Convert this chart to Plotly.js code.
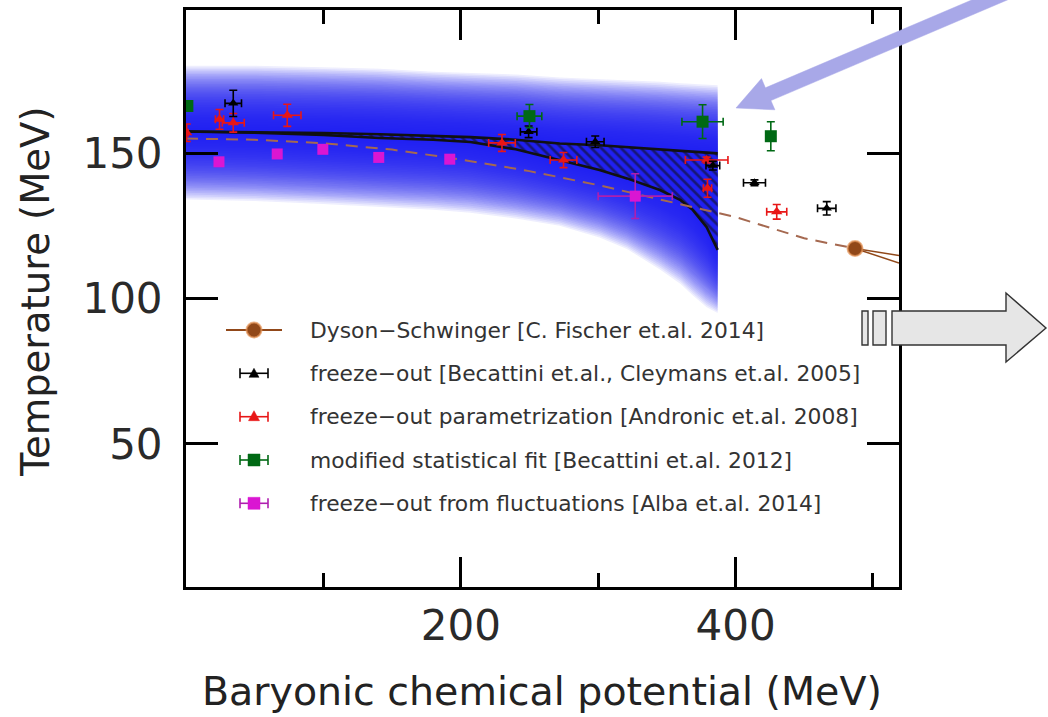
<!DOCTYPE html>
<html>
<head>
<meta charset="utf-8">
<script src="https://cdn.plot.ly/plotly-3.0.1.min.js"></script>
<style>
  html, body { margin: 0; padding: 0; background: #fff; }
  #chart { width: 1048px; height: 717px; }
</style>
</head>
<body>
<div id="chart"></div>
<script>
// ---- QCD phase diagram: transition band and freeze-out data ----

// Transition band (hatched region between two lines), with a fading halo
const bandMu      = [0, 50, 100, 141, 180, 207, 240, 272, 301, 321, 345, 360, 369, 379, 387];
const upperT      = [157.4, 157.2, 156.9, 156.5, 156.0, 155.5, 154.6, 153.3, 152.7, 152.0, 151.3, 150.8, 150.5, 150.2, 149.9];
const lowerT      = [157.4, 157.0, 156.2, 155.2, 154.6, 153.8, 151.3, 147.5, 144.2, 141.3, 137.3, 133.8, 130.4, 124.5, 116.7];
const bandTopT    = [180.0, 180.0, 179.5, 179.0, 178.0, 177.5, 177.0, 176.0, 175.5, 175.0, 174.5, 174.0, 173.8, 173.5, 173.3];
const bandBottomT = [134.0, 133.5, 132.5, 131.5, 130.5, 129.5, 127.5, 125.0, 121.0, 117.0, 110.0, 105.0, 101.0, 97.0, 95.0];

// Dyson-Schwinger crossover line, critical end point, first-order lines
const dsMu  = [0, 50, 100, 150, 200, 250, 300, 350, 400, 450, 487];
const dsT   = [155.0, 154.6, 153.4, 151.2, 147.8, 143.8, 139.0, 133.5, 128.0, 120.7, 117.2];
const cepMu = [487];
const cepT  = [117.2];
const foMu  = [487, 519];
const foT1  = [117.2, 114.8];
const foT2  = [117.2, 112.2];

// freeze-out [Becattini et.al., Cleymans et.al. 2005]
const bkMu    = [34.4, 249.4, 297.9, 383.5, 413.8, 466.4];
const bkT     = [167.1, 157.3, 153.9, 145.7, 139.8, 131.0];
const bkMuErr = [6, 6, 6.4, 5, 8, 6.7];
const bkTErr  = [4.5, 2, 2, 1.5, 1, 2.3];

// freeze-out parametrization [Andronic et.al. 2008]
const rdMu    = [0.5, 24.4, 34.4, 73.7, 230, 274.8, 379, 379.6, 430];
const rdT     = [157.0, 161.6, 160.4, 163.0, 153.5, 147.6, 147.6, 137.9, 129.8];
const rdMuErr = [1, 3, 8, 10, 9.7, 9.7, 15.5, 3, 7.3];
const rdTErr  = [3, 3.4, 3.2, 3.8, 2.9, 2.6, 1, 3.1, 2.5];

// modified statistical fit [Becattini et.al. 2012]
const gnMu    = [1, 250, 376, 425.7];
const gnT     = [166.2, 162.7, 160.8, 155.8];
const gnMuErr = [2, 9, 15, 1];
const gnTErr  = [1.5, 4, 5.8, 5];

// freeze-out from fluctuations [Alba et.al. 2014]
const mgMu    = [24, 66.4, 99.6, 140.3, 192, 327];
const mgT     = [147.0, 149.7, 151.3, 148.5, 147.9, 135.2];
const mgMuErr = [0, 0, 0, 0, 0, 27];
const mgTErr  = [0, 0, 0, 0, 0, 7.7];

// axis ticks
const xTickVals  = [200, 400];
const xTickText  = ['200', '400'];
const xMinorVals = [100, 300, 500];
const yTickVals  = [50, 100, 150];
const yTickText  = ['50', '100', '150'];

const legendLabels = [
  'Dyson\u2212Schwinger [C. Fischer et.al. 2014]',
  'freeze\u2212out [Becattini et.al., Cleymans et.al. 2005]',
  'freeze\u2212out parametrization [Andronic et.al. 2008]',
  'modified statistical fit [Becattini et.al. 2012]',
  'freeze\u2212out from fluctuations [Alba et.al. 2014]'
];

// ---- colours ----
const C_BLUE   = 'rgba(32,32,240,0.075)';
const C_BROWN  = 'rgb(145,72,25)';
const C_DASH   = 'rgb(165,105,80)';
const C_RED    = 'rgb(232,22,22)';
const C_BLACK  = '#000';
const C_GREEN  = 'rgb(0,105,20)';
const C_MAG    = 'rgb(218,22,210)';
const C_MAGERR = 'rgb(175,30,175)';

// ---- page geometry (pixels) ----
const M = { l: 186, r: 149, t: 10, b: 130 };
const W = 1048, H = 717;
const PW = W - M.l - M.r, PH = H - M.t - M.b;
const fx = px => (px - M.l) / PW;
const fy = py => 1 - (py - M.t) / PH;

const traces = [];

// halo: many nested translucent bands give a smooth fade around the region
const N_LAYERS = 40;
const revMu = bandMu.slice().reverse();
for (let k = 1; k <= N_LAYERS; k++) {
  const f = k / N_LAYERS;
  const top = bandMu.map((m, i) => upperT[i] + (bandTopT[i] - upperT[i]) * f);
  const bot = bandMu.map((m, i) => lowerT[i] - (lowerT[i] - bandBottomT[i]) * f);
  traces.push({
    x: bandMu.concat(revMu), y: top.concat(bot.slice().reverse()),
    mode: 'lines', fill: 'toself', fillcolor: C_BLUE,
    line: { width: 0, color: 'rgba(0,0,0,0)' }, hoverinfo: 'skip', showlegend: false
  });
}

// hatched transition region
traces.push({
  x: bandMu.concat(revMu), y: upperT.concat(lowerT.slice().reverse()),
  mode: 'lines', fill: 'toself', fillcolor: 'rgba(0,0,0,0)',
  fillpattern: { shape: '\\', fgcolor: '#14144a', bgcolor: 'rgba(0,0,0,0)', fgopacity: 0.75, size: 7, solidity: 0.38 },
  line: { width: 0, color: 'rgba(0,0,0,0)' }, hoverinfo: 'skip', showlegend: false
});
traces.push({ x: bandMu, y: upperT, mode: 'lines', line: { color: '#111', width: 2.6 }, showlegend: false });
traces.push({ x: bandMu, y: lowerT, mode: 'lines', line: { color: '#111', width: 2.6 }, showlegend: false });

// Dyson-Schwinger
traces.push({ x: dsMu, y: dsT, mode: 'lines', line: { color: C_DASH, width: 2, dash: '12px,8px' }, showlegend: false });
traces.push({ x: foMu, y: foT1, mode: 'lines', line: { color: C_BROWN, width: 1.5 }, showlegend: false });
traces.push({ x: foMu, y: foT2, mode: 'lines', line: { color: C_BROWN, width: 1.5 }, showlegend: false });
traces.push({
  x: cepMu, y: cepT, mode: 'markers',
  marker: { symbol: 'circle', size: 15, color: C_BROWN, line: { color: 'rgba(230,150,90,0.7)', width: 2 } },
  showlegend: false
});

function pointSet(mu, t, muErr, tErr, symbol, size, color, errColor) {
  return {
    x: mu, y: t, mode: 'markers', showlegend: false,
    marker: { symbol: symbol, size: size, color: color },
    error_x: { type: 'data', array: muErr, visible: true, color: errColor, thickness: 1.6, width: 4 },
    error_y: { type: 'data', array: tErr, visible: true, color: errColor, thickness: 1.6, width: 4 }
  };
}
traces.push(pointSet(mgMu, mgT, mgMuErr, mgTErr, 'square', 11, C_MAG, C_MAGERR));
traces.push(pointSet(rdMu, rdT, rdMuErr, rdTErr, 'triangle-up', 10, C_RED, C_RED));
traces.push(pointSet(bkMu, bkT, bkMuErr, bkTErr, 'triangle-up', 9, C_BLACK, C_BLACK));
traces.push(pointSet(gnMu, gnT, gnMuErr, gnTErr, 'square', 12, C_GREEN, C_GREEN));

// ---- legend (drawn in page coordinates) ----
const shapes = [];
const annotations = [];
const rowY = [330, 373.3, 416.7, 460, 503.3];
const symX = 254;
function pline(x0, y0, x1, y1, color, width) {
  shapes.push({ type: 'line', xref: 'paper', yref: 'paper', x0: fx(x0), y0: fy(y0), x1: fx(x1), y1: fy(y1),
                line: { color: color, width: width } });
}
function ppath(pts, fill, stroke, width) {
  const d = pts.map((p, i) => (i ? 'L' : 'M') + fx(p[0]).toFixed(5) + ',' + fy(p[1]).toFixed(5)).join(' ') + ' Z';
  shapes.push({ type: 'path', xref: 'paper', yref: 'paper', path: d, fillcolor: fill,
                line: { color: stroke, width: width } });
}
function errSwatch(yc, color) {
  pline(symX - 14, yc, symX + 14, yc, color, 1.6);
  pline(symX - 14, yc - 5, symX - 14, yc + 5, color, 1.6);
  pline(symX + 14, yc - 5, symX + 14, yc + 5, color, 1.6);
}
// Dyson-Schwinger swatch
pline(226, rowY[0], 282, rowY[0], C_BROWN, 2);
shapes.push({ type: 'circle', xref: 'paper', yref: 'paper',
  x0: fx(symX - 7.5), x1: fx(symX + 7.5), y0: fy(rowY[0] + 7.5), y1: fy(rowY[0] - 7.5),
  fillcolor: C_BROWN, line: { color: 'rgba(230,150,90,0.7)', width: 2 } });
// freeze-out swatches
errSwatch(rowY[1], C_BLACK);
ppath([[symX - 5, rowY[1] + 4], [symX + 5, rowY[1] + 4], [symX, rowY[1] - 5]], C_BLACK, C_BLACK, 0.5);
errSwatch(rowY[2], C_RED);
ppath([[symX - 5.5, rowY[2] + 4], [symX + 5.5, rowY[2] + 4], [symX, rowY[2] - 6]], C_RED, C_RED, 0.5);
errSwatch(rowY[3], C_GREEN);
ppath([[symX - 6, rowY[3] - 6], [symX + 6, rowY[3] - 6], [symX + 6, rowY[3] + 6], [symX - 6, rowY[3] + 6]], C_GREEN, C_GREEN, 0.5);
errSwatch(rowY[4], C_MAGERR);
ppath([[symX - 6, rowY[4] - 6], [symX + 6, rowY[4] - 6], [symX + 6, rowY[4] + 6], [symX - 6, rowY[4] + 6]], C_MAG, C_MAG, 0.5);

legendLabels.forEach((txt, i) => {
  annotations.push({ xref: 'paper', yref: 'paper', x: fx(308), y: fy(rowY[i]), xanchor: 'left', yanchor: 'middle',
    text: txt, showarrow: false, font: { family: 'DejaVu Sans', size: 21.8, color: '#333' } });
});

// axis titles
annotations.push({ xref: 'paper', yref: 'paper', x: fx(542), y: fy(666), xanchor: 'center', yanchor: 'top',
  text: 'Baryonic chemical potential (MeV)', showarrow: false,
  font: { family: 'DejaVu Sans', size: 39.5, color: '#222' } });
annotations.push({ xref: 'paper', yref: 'paper', x: fx(35), y: fy(292), xanchor: 'center', yanchor: 'middle',
  text: 'Temperature (MeV)', textangle: -90, showarrow: false,
  font: { family: 'DejaVu Sans', size: 38.5, color: '#222' } });

// pointer arrow towards the end of the transition band
ppath([[736, 108], [774.9, 109.8], [770.9, 100.6], [1062.7, -23.6], [1057.2, -36.4], [765.4, 87.8], [761.5, 78.6]],
      'rgb(168,168,232)', 'rgb(168,168,232)', 0.5);

// block arrow on the right
ppath([[862, 311], [868, 311], [868, 345], [862, 345]], '#e6e6e6', '#333', 1.4);
ppath([[873, 311], [886, 311], [886, 345], [873, 345]], '#e6e6e6', '#333', 1.4);
ppath([[892, 311], [1006, 311], [1006, 293], [1046, 328], [1006, 362], [1006, 345], [892, 345]], '#e6e6e6', '#333', 1.4);

const axisCommon = {
  ticks: 'inside', tickwidth: 3, tickcolor: '#000', showline: true, linewidth: 3, linecolor: '#000',
  mirror: 'ticks', showgrid: false, zeroline: false, fixedrange: true,
  tickfont: { family: 'DejaVu Sans', size: 42, color: '#2a2a2a' }
};

const layout = {
  width: W, height: H,
  margin: { l: M.l, r: M.r, t: M.t, b: M.b, autoexpand: false },
  paper_bgcolor: '#fff', plot_bgcolor: '#fff',
  showlegend: false,
  xaxis: Object.assign({}, axisCommon, {
    range: [0, 519], tickmode: 'array', tickvals: xTickVals, ticktext: xTickText,
    ticklen: 30, ticklabelstandoff: 0,
    minor: { tickmode: 'array', tickvals: xMinorVals, ticks: 'inside', ticklen: 14, tickwidth: 3, tickcolor: '#000', showgrid: false }
  }),
  yaxis: Object.assign({}, axisCommon, {
    range: [0.8, 199.2], tickmode: 'array', tickvals: yTickVals, ticktext: yTickText,
    ticklen: 32, ticklabelstandoff: 12
  }),
  shapes: shapes,
  annotations: annotations
};

Plotly.newPlot('chart', traces, layout, { displayModeBar: false, staticPlot: true });
</script>
</body>
</html>
